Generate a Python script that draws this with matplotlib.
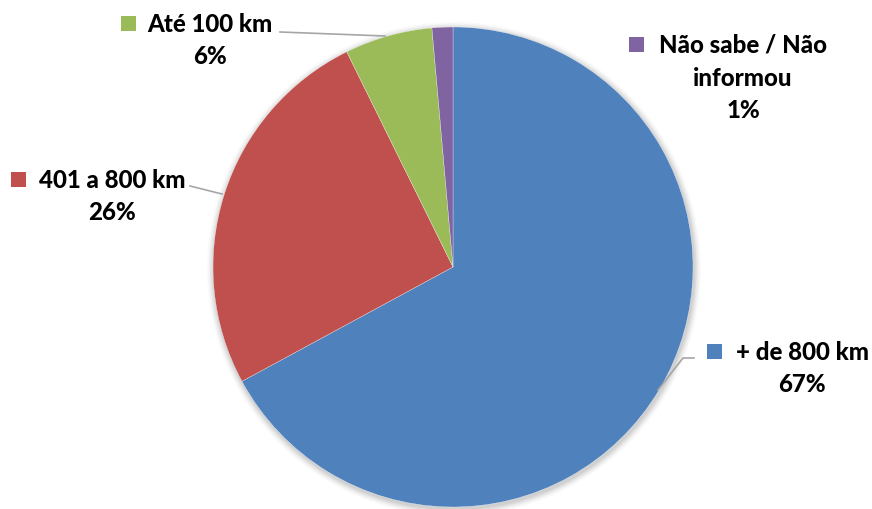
import matplotlib
matplotlib.use("Agg")
import matplotlib.pyplot as plt
from matplotlib.patches import Rectangle, Circle

# data (clockwise from 12 o'clock)
categories = ["+ de 800 km", "401 a 800 km", "Até 100 km", "Não sabe / Não\ninformou"]
values = [67.1, 25.6, 5.9, 1.4]
pct_labels = ["67%", "26%", "6%", "1%"]
colors = ["#4F81BD", "#C0504D", "#9BBB59", "#8064A2"]

W, H = 872, 510
fig = plt.figure(figsize=(W / 100, H / 100), dpi=100)
ax = fig.add_axes([0, 0, 1, 1])

cx, cy, r = 453, H - 268, 240

# soft shadow around pie
for i, a in enumerate([0.05, 0.05, 0.04, 0.03, 0.02]):
    ax.add_patch(Circle((cx + 1, cy - 2), r + 1 + i * 1.5, color="#000000", alpha=a, lw=0, zorder=0))

ax.pie(values, colors=colors, startangle=90, counterclock=False,
       center=(cx, cy), radius=r, frame=True,
       wedgeprops=dict(edgecolor="white", linewidth=0.2))

ax.set_xlim(0, W)
ax.set_ylim(0, H)
ax.set_aspect("equal")
ax.axis("off")

font = dict(family="Lato", weight="black", fontsize=17.3, color="black")
line_h = 33

# label layout: (text centre x, first line y in px from top, square x)
label_pos = [(802, 352, 714), (112, 180, 18), (210, 24, 128), (743, 45, 636)]
leaders = [
    [(694, 359), (683, 359), (658, 391)],
    [(190, 187), (222, 195)],
    [(280, 33), (385, 37)],
    None,
]

for cat, pct, col, (tx, ty, sx), ld in zip(categories, pct_labels, colors, label_pos, leaders):
    lines = cat.split("\n") + [pct]
    for k, s in enumerate(lines):
        ax.text(tx, H - (ty + k * line_h), s, ha="center", va="center", **font)
    ax.add_patch(Rectangle((sx - 7.5, H - ty - 7.5), 15, 15, color=col, lw=0))
    if ld:
        xs = [p[0] for p in ld]
        ys = [H - p[1] for p in ld]
        ax.plot(xs, ys, color="#A6A6A6", lw=1.2)

fig.savefig("out.png", dpi=100)
